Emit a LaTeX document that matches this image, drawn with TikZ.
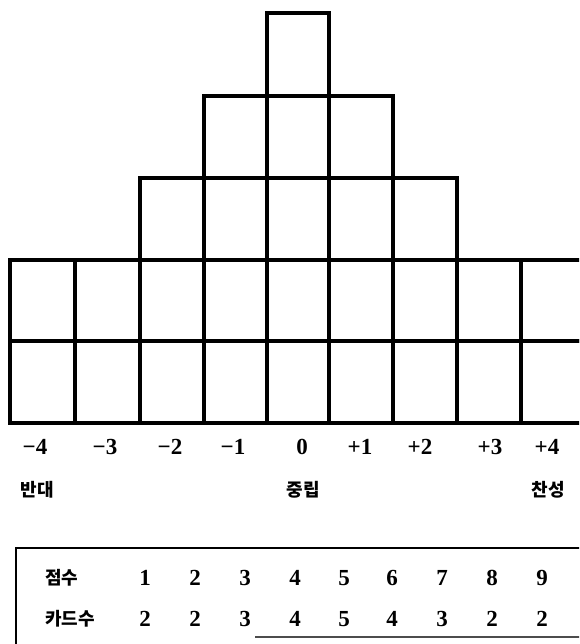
\documentclass[tikz,border=0pt]{standalone}
\usepackage{fontspec}
\setmainfont{Liberation Serif}
\newfontfamily\kr{Noto Sans CJK KR}
\begin{document}
\begin{tikzpicture}[x=1pt,y=-1pt,
  gridline/.style={line width=3.2pt,line cap=rect},
  tabline/.style={line width=2.4pt},
  numlab/.style={inner sep=0pt,font=\fontsize{23}{25}\selectfont\bfseries},
  krlab/.style={inner sep=0pt,font=\kr\fontsize{18}{20}\selectfont\bfseries}]
\useasboundingbox (0,0) rectangle (579,644);
\begin{scope}
\clip (0,0) rectangle (579,644);
% pyramid cells
\draw[gridline] (267,13) rectangle (329,96);
\foreach \a/\b in {204/267,267/329,329/393}{\draw[gridline] (\a,96) rectangle (\b,178);}
\foreach \a/\b in {140/204,204/267,267/329,329/393,393/457}{\draw[gridline] (\a,178) rectangle (\b,260);}
\foreach \a/\b in {10/75,75/140,140/204,204/267,267/329,329/393,393/457,457/521,521/590}{
  \draw[gridline] (\a,260) rectangle (\b,341);
  \draw[gridline] (\a,341) rectangle (\b,423);}
% table frame
\draw[tabline] (590,548) -- (16,548) -- (16,650);
\draw[tabline,black!70] (255,637) -- (590,637);
\end{scope}
% scale labels
\foreach \x/\t [count=\i] in {35/−4,105/−3,170/−2,233/−1,302/0,360/+1,420/+2,490/+3,547/+4}{
  \node[numlab] (s\i) at (\x,447) {\t};}
\node[krlab] (ban) at (37,490) {반대};
\node[krlab] (jung) at (303,490) {중립};
\node[krlab] (chan) at (548,490) {찬성};
% table
\node[krlab,anchor=west] (h1) at (45,578) {점수};
\node[krlab,anchor=west] (h2) at (45,619) {카드수};
\foreach \x/\p/\c [count=\i] in {145/1/2,195/2/2,245/3/3,295/4/4,344/5/5,392/6/4,442/7/3,492/8/2,542/9/2}{
  \node[numlab] (p\i) at (\x,578) {\p};
  \node[numlab] (c\i) at (\x,619) {\c};}
\end{tikzpicture}
\end{document}
